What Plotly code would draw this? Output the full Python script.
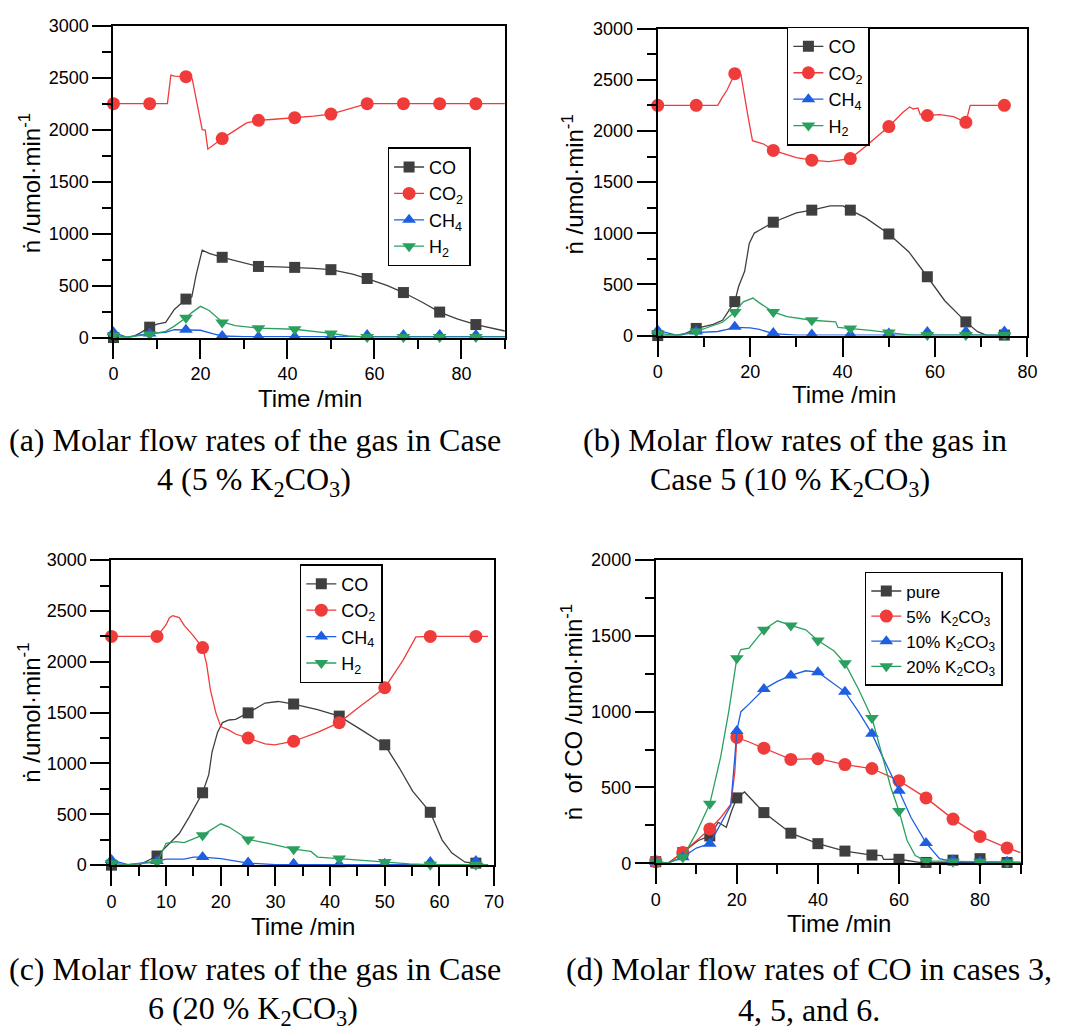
import plotly.graph_objects as go

W, H = 1072, 1036

# ---------------- Panel (a): Case 4 (5 % K2CO3) ----------------
a_mark_t = [0, 8.33, 16.67, 25, 33.33, 41.67, 50, 58.33, 66.67, 75, 83.33]
a_CO_mark = [0, 100, 370, 772, 684, 675, 653, 568, 433, 245, 125]
a_CO2_mark = [2250, 2250, 2510, 1914, 2090, 2115, 2150, 2250, 2250, 2250, 2250]
a_CH4_mark = [50, 40, 75, 15, 8, 8, 8, 25, 25, 25, 25]
a_H2_mark = [20, 30, 190, 145, 90, 80, 40, 5, 5, 5, 5]

a_CO_t = [0, 4, 6, 8.33, 10, 12, 14, 16.67, 18, 19, 20.4, 22, 25, 30, 33.33, 38, 41.67, 46, 50, 55, 58.33, 63, 66.67, 71, 75, 79, 83.33, 90]
a_CO_v = [0, 0, 40, 100, 130, 145, 270, 370, 390, 600, 841, 810, 772, 720, 684, 680, 675, 665, 653, 610, 568, 500, 433, 340, 245, 180, 125, 63]
a_CO2_t = [0, 8.33, 12.4, 13.2, 14, 16.67, 18.1, 20.4, 21.1, 21.7, 25, 30.6, 33.33, 37, 41.67, 46, 50, 54, 58.33, 90]
a_CO2_v = [2250, 2250, 2250, 2525, 2515, 2510, 2490, 2000, 1995, 1812, 1914, 2065, 2090, 2100, 2115, 2130, 2150, 2200, 2250, 2250]
a_CH4_t = [0, 3, 8.33, 12, 14, 16.67, 20, 23, 25, 30, 58.33, 90]
a_CH4_v = [50, 5, 40, 50, 75, 75, 70, 35, 15, 8, 8, 8]
a_H2_t = [0, 3, 8.33, 12, 14, 16.67, 18, 20, 22, 25, 28, 33.33, 41.67, 46, 50, 54, 58.33, 90]
a_H2_v = [20, 5, 30, 60, 110, 190, 240, 300, 260, 150, 115, 90, 80, 60, 40, 15, 5, 5]

# ---------------- Panel (b): Case 5 (10 % K2CO3) ----------------
b_mark_t = [0, 8.33, 16.67, 25, 33.33, 41.67, 50, 58.33, 66.67, 75]
b_CO_mark = [0, 70, 332, 1108, 1226, 1226, 993, 575, 134, 5]
b_CO2_mark = [2250, 2250, 2560, 1810, 1714, 1730, 2043, 2151, 2084, 2250]
b_CH4_mark = [50, 40, 86, 25, 10, 10, 20, 35, 40, 40]
b_H2_mark = [20, 40, 230, 230, 150, 70, 30, 5, 5, 5]

b_CO_t = [0, 5, 8.33, 12, 14, 16.67, 17.5, 18.8, 19.8, 20.9, 22, 25, 30, 33.33, 37.3, 40.1, 41.67, 45, 50, 54.3, 58.33, 62.1, 66.67, 69.2, 71.3, 75]
b_CO_v = [0, 0, 70, 110, 150, 332, 480, 628, 900, 1002, 1030, 1108, 1200, 1226, 1267, 1267, 1226, 1150, 993, 820, 575, 341, 134, 38, 0, 0]
b_CO2_t = [0, 8.33, 13, 14, 15, 16.67, 18, 19.5, 20.5, 23, 25, 30, 33.33, 37, 41.67, 45, 50, 53, 54.5, 55.3, 56.3, 56.8, 58.33, 61, 64, 66.67, 67.6, 75]
b_CO2_v = [2250, 2250, 2250, 2330, 2400, 2560, 2550, 2150, 1905, 1870, 1810, 1740, 1714, 1700, 1730, 1850, 2043, 2180, 2234, 2215, 2225, 2160, 2151, 2160, 2140, 2084, 2250, 2250]
b_CH4_t = [0, 4, 8.33, 13, 15, 16.67, 20, 22, 25, 30, 75]
b_CH4_v = [50, 5, 30, 40, 60, 80, 75, 60, 20, 5, 5]
b_H2_t = [0, 4, 8.33, 12, 14, 16.67, 18.5, 20.6, 22, 25, 28, 33.33, 38.5, 39, 41.67, 46, 50, 55, 75]
b_H2_v = [20, 5, 40, 100, 130, 230, 330, 367, 320, 230, 185, 150, 135, 80, 70, 50, 30, 5, 5]

# ---------------- Panel (c): Case 6 (20 % K2CO3) ----------------
c_mark_t = [0, 8.33, 16.67, 25, 33.33, 41.67, 50, 58.33, 66.67]
c_CO_mark = [0, 90, 712, 1498, 1585, 1466, 1184, 520, 20]
c_CO2_mark = [2250, 2250, 2140, 1251, 1219, 1402, 1745, 2250, 2250]
c_CH4_mark = [50, 40, 80, 25, 15, 10, 15, 30, 40]
c_H2_mark = [20, 30, 295, 253, 157, 65, 30, 5, 5]

c_CO_t = [0, 5, 8.33, 10, 12.4, 14.2, 16.67, 17.8, 18.4, 19.4, 20.3, 21.5, 22.7, 25, 28.1, 30.5, 33.33, 37.7, 41.67, 45.5, 50, 52.7, 55.1, 58.33, 60.5, 62.3, 64.7, 66.67, 68.3]
c_CO_v = [0, 0, 90, 183, 311, 472, 712, 890, 1113, 1306, 1402, 1428, 1434, 1498, 1595, 1610, 1585, 1530, 1466, 1338, 1184, 953, 728, 520, 247, 119, 29, 20, 6]
c_CO2_t = [0, 8.33, 10, 10.6, 11.2, 12.4, 13.3, 14.8, 16.67, 17.4, 18.1, 19.1, 20, 21.5, 22.7, 25, 28.1, 29.9, 33.33, 37.7, 41.67, 45.5, 50, 53.3, 55.7, 58.33, 68.9]
c_CO2_v = [2250, 2250, 2365, 2435, 2454, 2435, 2358, 2268, 2140, 1979, 1723, 1498, 1363, 1328, 1290, 1251, 1193, 1184, 1219, 1306, 1402, 1562, 1745, 2012, 2246, 2250, 2250]
c_CH4_t = [0, 3, 8.33, 10, 13.3, 15, 16.67, 20, 25, 30, 68.9]
c_CH4_v = [50, 5, 40, 60, 60, 80, 80, 65, 20, 5, 5]
c_H2_t = [0, 3, 8.33, 10, 11.8, 13.3, 16.67, 20, 21.5, 25, 28.7, 33.33, 36.5, 37.7, 41.67, 50, 54.5, 58.33, 68.9]
c_H2_v = [20, 5, 30, 215, 231, 221, 295, 407, 375, 253, 215, 157, 135, 80, 65, 30, 13, 5, 5]

# ---------------- Panel (d): CO in cases 3-6 ----------------
d_mark_t = [0, 6.67, 13.33, 20, 26.67, 33.33, 40, 46.67, 53.33, 60, 66.67, 73.33, 80, 86.67]
d_pure_mark = [10, 70, 180, 431, 334, 198, 129, 80, 54, 26, 5, 20, 30, 5]
d_5_mark = [10, 70, 226, 830, 759, 685, 690, 651, 625, 545, 431, 291, 177, 101]
d_10_mark = [10, 40, 129, 873, 1149, 1239, 1261, 1131, 855, 478, 134, 20, 10, 10]
d_20_mark = [10, 40, 392, 1353, 1541, 1569, 1470, 1319, 959, 345, 15, 10, 10, 5]

d_pure_t = [0, 3, 6.67, 10.5, 13.33, 15.4, 17.4, 18.7, 20, 21.9, 26.67, 33.33, 40, 46.67, 53.33, 55.8, 56.2, 60, 65, 90]
d_pure_v = [10, 0, 70, 150, 180, 270, 237, 345, 431, 470, 334, 198, 129, 80, 54, 50, 25, 26, 5, 5]
d_5_t = [0, 3, 6.67, 10, 13.33, 16, 18.5, 19.5, 20, 23, 26.67, 30, 33.33, 40, 46.67, 53.33, 60, 66.67, 73.33, 80, 86.67, 90]
d_5_v = [10, 0, 70, 150, 226, 300, 388, 600, 830, 800, 759, 720, 685, 690, 651, 625, 545, 431, 291, 177, 101, 70]
d_10_t = [0, 3, 6.67, 10, 13.33, 16, 18.5, 19.5, 20, 21, 23, 26.67, 30, 33.33, 37, 40, 46.67, 50, 53.33, 56, 60, 63, 66.67, 70, 73.33, 90]
d_10_v = [10, 0, 40, 100, 129, 260, 380, 700, 873, 1000, 1050, 1149, 1200, 1239, 1270, 1261, 1131, 1000, 855, 700, 478, 300, 134, 30, 10, 5]
d_20_t = [0, 3, 6.67, 10, 13.33, 16, 18, 19.5, 20, 21, 23, 26.67, 30, 33.33, 37, 40, 44, 46.67, 50, 53.33, 56, 58, 60, 62, 64, 66.67, 90]
d_20_v = [10, 0, 40, 200, 392, 700, 1000, 1250, 1353, 1410, 1420, 1541, 1600, 1569, 1540, 1470, 1400, 1319, 1150, 959, 700, 500, 345, 150, 50, 15, 5]

# ---------------- Text ----------------
gas_names = ["CO", "CO<sub>2</sub>", "CH<sub>4</sub>", "H<sub>2</sub>"]
case_names = ["pure", "5%\u00a0\u00a0K<sub>2</sub>CO<sub>3</sub>", "10% K<sub>2</sub>CO<sub>3</sub>", "20% K<sub>2</sub>CO<sub>3</sub>"]
x_title = "Time /min"
y_title = "\u1e45 /umol\u00b7min<sup>-1</sup>"
y_title_d = "\u1e45\u00a0\u00a0of CO /umol\u00b7min<sup>-1</sup>"
captions = [
    ("(a) Molar flow rates of the gas in Case", 254, 438),
    ("4 (5 % K<sub>2</sub>CO<sub>3</sub>)", 253, 481),
    ("(b) Molar flow rates of the gas in", 801, 438),
    ("Case 5 (10 % K<sub>2</sub>CO<sub>3</sub>)", 796, 481),
    ("(c) Molar flow rates of the gas in Case", 254, 978),
    ("6 (20 % K<sub>2</sub>CO<sub>3</sub>)", 252, 1020),
    ("(d) Molar flow rates of CO in cases 3,", 815, 978),
    ("4, 5, and 6.", 815, 1020),
]

colors = ["#3f3f3f", "#f03b3b", "#1e5fe2", "#2aa05e"]
symbols = ["square", "circle", "triangle-up", "triangle-down"]
sizes = [11, 13, 12, 12]

fig = go.Figure()


def add_series(ax, name, lt, lv, mt, mv, k, legend):
    xa = "x" if ax == 1 else f"x{ax}"
    ya = "y" if ax == 1 else f"y{ax}"
    fig.add_trace(go.Scatter(x=lt, y=lv, mode="lines", line=dict(color=colors[k], width=1.3),
                             xaxis=xa, yaxis=ya, showlegend=False, hoverinfo="skip"))
    fig.add_trace(go.Scatter(x=mt, y=mv, mode="markers",
                             marker=dict(color=colors[k], symbol=symbols[k], size=sizes[k], line=dict(width=0)),
                             xaxis=xa, yaxis=ya, showlegend=False, cliponaxis=False))
    fig.add_trace(go.Scatter(x=[None], y=[None], mode="lines+markers", name=name,
                             line=dict(color=colors[k], width=1.3),
                             marker=dict(color=colors[k], symbol=symbols[k], size=sizes[k], line=dict(width=0)),
                             xaxis=xa, yaxis=ya, legend=legend))


add_series(1, gas_names[0], a_CO_t, a_CO_v, a_mark_t, a_CO_mark, 0, "legend")
add_series(1, gas_names[1], a_CO2_t, a_CO2_v, a_mark_t, a_CO2_mark, 1, "legend")
add_series(1, gas_names[2], a_CH4_t, a_CH4_v, a_mark_t, a_CH4_mark, 2, "legend")
add_series(1, gas_names[3], a_H2_t, a_H2_v, a_mark_t, a_H2_mark, 3, "legend")

add_series(2, gas_names[0], b_CO_t, b_CO_v, b_mark_t, b_CO_mark, 0, "legend2")
add_series(2, gas_names[1], b_CO2_t, b_CO2_v, b_mark_t, b_CO2_mark, 1, "legend2")
add_series(2, gas_names[2], b_CH4_t, b_CH4_v, b_mark_t, b_CH4_mark, 2, "legend2")
add_series(2, gas_names[3], b_H2_t, b_H2_v, b_mark_t, b_H2_mark, 3, "legend2")

add_series(3, gas_names[0], c_CO_t, c_CO_v, c_mark_t, c_CO_mark, 0, "legend3")
add_series(3, gas_names[1], c_CO2_t, c_CO2_v, c_mark_t, c_CO2_mark, 1, "legend3")
add_series(3, gas_names[2], c_CH4_t, c_CH4_v, c_mark_t, c_CH4_mark, 2, "legend3")
add_series(3, gas_names[3], c_H2_t, c_H2_v, c_mark_t, c_H2_mark, 3, "legend3")

add_series(4, case_names[0], d_pure_t, d_pure_v, d_mark_t, d_pure_mark, 0, "legend4")
add_series(4, case_names[1], d_5_t, d_5_v, d_mark_t, d_5_mark, 1, "legend4")
add_series(4, case_names[2], d_10_t, d_10_v, d_mark_t, d_10_mark, 2, "legend4")
add_series(4, case_names[3], d_20_t, d_20_v, d_mark_t, d_20_mark, 3, "legend4")

SANS = "Liberation Sans, Arial, sans-serif"
SERIF = "Liberation Serif, Times New Roman, serif"


def xax(px0, px1, rng, dt, mdt, anchor):
    return dict(domain=[px0 / W, px1 / W], range=rng, dtick=dt, anchor=anchor,
                showline=True, linecolor="black", linewidth=2, mirror=True,
                ticks="outside", ticklen=19, tickwidth=2, tickcolor="black",
                minor=dict(dtick=mdt, ticks="outside", ticklen=9, tickwidth=2, tickcolor="black"),
                showgrid=False, zeroline=False,
                tickfont=dict(family=SANS, size=18, color="black"))


def yax(py0, py1, rng, anchor):
    return dict(domain=[(H - py1) / H, (H - py0) / H], range=rng, dtick=500, anchor=anchor,
                showline=True, linecolor="black", linewidth=2, mirror=True,
                ticks="outside", ticklen=19, tickwidth=2, tickcolor="black",
                minor=dict(dtick=250, ticks="outside", ticklen=9, tickwidth=2, tickcolor="black"),
                showgrid=False, zeroline=False,
                tickfont=dict(family=SANS, size=18, color="black"))


def legend_at(px, py, size=18):
    return dict(x=px / W, y=(H - py) / H, xanchor="left", yanchor="top", xref="paper", yref="paper",
                bgcolor="white", bordercolor="black", borderwidth=1.5,
                font=dict(family=SANS, size=size, color="black"), tracegroupgap=0)


annotations = []


def ann(text, px, py, size, family, angle=0):
    annotations.append(dict(text=text, x=px / W, y=(H - py) / H, xref="paper", yref="paper",
                            xanchor="center", yanchor="middle", showarrow=False, textangle=angle,
                            font=dict(family=family, size=size, color="black")))


ann(x_title, 309, 396, 24, SANS)
ann(x_title, 851, 392, 24, SANS)
ann(x_title, 302, 935, 24, SANS)
ann(x_title, 846, 931, 24, SANS)
ann(y_title, 25, 177, 24, SANS, -90)
ann(y_title, 576, 178, 24, SANS, -90)
ann(y_title, 25, 717, 24, SANS, -90)
ann(y_title_d, 575, 716, 24, SANS, -90)
for text, cx, cy in captions:
    ann(text, cx, cy, 32, SERIF)

fig.update_layout(
    width=W, height=H, margin=dict(l=0, r=0, t=0, b=0),
    paper_bgcolor="white", plot_bgcolor="white",
    xaxis=xax(110, 507, [0, 90], 20, 10, "y"),
    yaxis=yax(16, 334, [0, 3000], "x"),
    xaxis2=xax(662, 1037, [0, 80], 20, 10, "y2"),
    yaxis2=yax(19, 332, [0, 3000], "x2"),
    xaxis3=xax(108, 496, [0, 70], 10, 5, "y3"),
    yaxis3=yax(561, 872, [0, 3000], "x3"),
    xaxis4=xax(660, 1030, [0, 90], 20, 10, "y4"),
    yaxis4=yax(561, 870, [0, 2000], "x4"),
    legend=legend_at(388, 140),
    legend2=legend_at(793, 17),
    legend3=legend_at(299, 565),
    legend4=legend_at(872, 573, 17),
    annotations=annotations,
    showlegend=True,
)

fig.write_html("out.html")
